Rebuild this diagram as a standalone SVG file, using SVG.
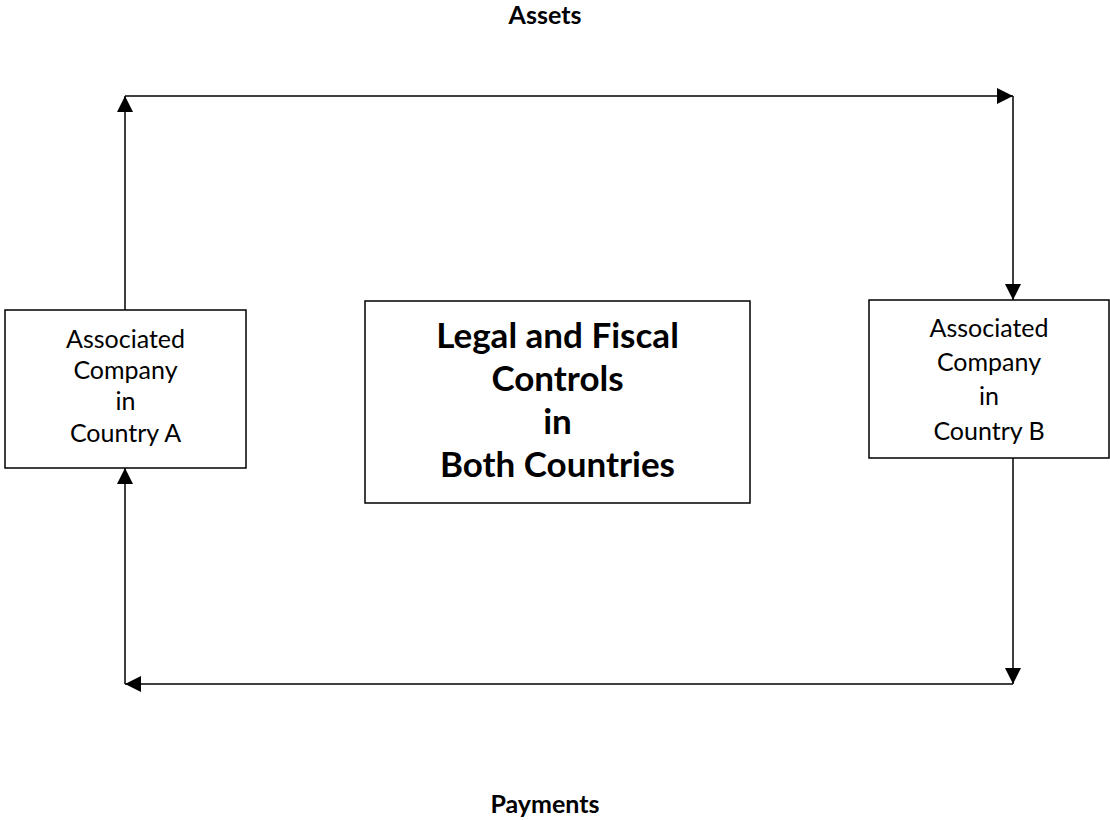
<svg xmlns="http://www.w3.org/2000/svg" width="1110" height="820" viewBox="0 0 1110 820">
<style>
.box{fill:#fff;stroke:#000;stroke-width:1.5}
.ln{fill:none;stroke:#000;stroke-width:1.5}
.t{font-family:Lato,"Liberation Sans",sans-serif;font-size:25px;text-anchor:middle;fill:#000}
.tb{font-family:Lato,"Liberation Sans",sans-serif;font-weight:bold;text-anchor:middle;fill:#000}
</style>
<defs>
<marker id="ah" markerUnits="userSpaceOnUse" markerWidth="16" markerHeight="16" viewBox="0 0 15 15" refX="15" refY="7.5" orient="auto">
<path d="M0,0 L15,7.5 L0,15 z" fill="#000"/>
</marker>
</defs>
<rect width="1110" height="820" fill="#fff"/>
<g id="connectors">
<line class="ln" x1="125" y1="310" x2="125" y2="96" marker-end="url(#ah)"/>
<line class="ln" x1="125" y1="96" x2="1013" y2="96" marker-end="url(#ah)"/>
<line class="ln" x1="1013" y1="96" x2="1013" y2="300" marker-end="url(#ah)"/>
<line class="ln" x1="1013" y1="458" x2="1013" y2="684" marker-end="url(#ah)"/>
<line class="ln" x1="1013" y1="684" x2="125" y2="684" marker-end="url(#ah)"/>
<line class="ln" x1="125" y1="684" x2="125" y2="468" marker-end="url(#ah)"/>
</g>
<g id="label-assets"><text class="tb" x="545" y="24" font-size="25">Assets</text></g>
<g id="label-payments"><text class="tb" x="545" y="813" font-size="25">Payments</text></g>
<g id="node-a">
<rect class="box" x="5" y="310" width="241" height="158"/>
<text class="t" x="125.5" y="348">Associated</text>
<text class="t" x="125.5" y="379">Company</text>
<text class="t" x="125.5" y="410">in</text>
<text class="t" x="125.5" y="442">Country A</text>
</g>
<g id="node-center">
<rect class="box" x="365" y="301" width="385" height="202"/>
<text class="tb" x="557.5" y="348" font-size="35">Legal and Fiscal</text>
<text class="tb" x="557.5" y="391" font-size="35">Controls</text>
<text class="tb" x="557.5" y="434" font-size="35">in</text>
<text class="tb" x="557.5" y="477" font-size="35">Both Countries</text>
</g>
<g id="node-b">
<rect class="box" x="869" y="300" width="240" height="158"/>
<text class="t" x="989" y="337">Associated</text>
<text class="t" x="989" y="371">Company</text>
<text class="t" x="989" y="405">in</text>
<text class="t" x="989" y="440">Country B</text>
</g>
</svg>
